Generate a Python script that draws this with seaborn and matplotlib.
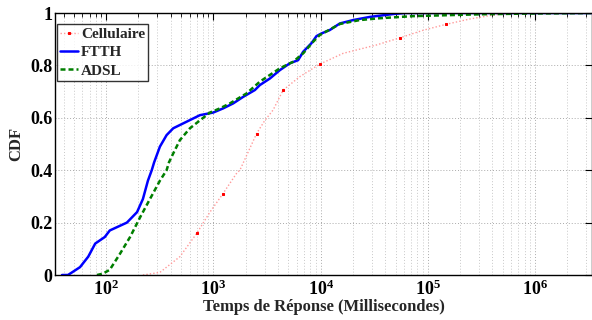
import numpy as np
import pandas as pd
import matplotlib
matplotlib.use("Agg")
import matplotlib.pyplot as plt
import seaborn as sns
from matplotlib.ticker import LogLocator, FixedLocator, FuncFormatter, NullFormatter

# ---- data (response time in ms, CDF) ----
ftth_ms = [38.7, 44, 48, 57, 68, 79, 97, 108, 156, 194, 220, 245, 266, 280, 317, 366, 422,
           562, 748, 995, 1234, 1530, 1896, 2438, 2713, 3365, 4169, 5165, 6170, 6874, 8226,
           9160, 10190, 12180, 15100, 20090, 28750, 47430, 60970, 3.5e6]
ftth_cdf = [0.0, 0.0, 0.01, 0.03, 0.07, 0.12, 0.145, 0.17, 0.20, 0.24, 0.29, 0.36, 0.40, 0.43,
            0.49, 0.534, 0.56, 0.585, 0.61, 0.62, 0.636, 0.655, 0.68, 0.706, 0.725, 0.75,
            0.782, 0.808, 0.82, 0.852, 0.885, 0.912, 0.922, 0.935, 0.96, 0.973, 0.985,
            0.996, 1.0, 1.0]

adsl_ms = [82, 93, 108, 134, 167, 207, 256, 317, 366, 385, 422, 487, 604, 748, 928, 1150,
           1425, 2037, 2713, 4169, 5548, 6874, 8510, 9835, 15100, 23180, 35600, 72300,
           304800, 891000, 3.5e6]
adsl_cdf = [0.0, 0.005, 0.02, 0.08, 0.145, 0.22, 0.29, 0.36, 0.40, 0.43, 0.464, 0.515, 0.56,
            0.59, 0.62, 0.636, 0.655, 0.693, 0.738, 0.789, 0.814, 0.846, 0.89, 0.916, 0.958,
            0.973, 0.98, 0.988, 0.995, 0.998, 1.0]

cell_ms = [220, 317, 487, 702, 928, 1226, 1657, 1766, 2529, 3020, 3609, 4473, 6397, 9835,
           16220, 33200, 54700, 90200, 148900, 245500, 377400, 540000, 718000, 3.5e6]
cell_cdf = [0.0, 0.01, 0.07, 0.16, 0.24, 0.31, 0.39, 0.40, 0.54, 0.59, 0.63, 0.706, 0.757,
            0.805, 0.846, 0.878, 0.905, 0.934, 0.957, 0.977, 0.99, 0.998, 1.0, 1.0]

series_names = ["Cellulaire", "FTTH", "ADSL"]
y_ticks = [0, 0.2, 0.4, 0.6, 0.8, 1.0]
y_tick_labels = ["0", "0.2", "0.4", "0.6", "0.8", "1"]
x_major = [1e2, 1e3, 1e4, 1e5, 1e6]
x_label = "Temps de Réponse (Millisecondes)"
y_label = "CDF"

sns.set_style("white")
plt.rcParams["font.family"] = ["Liberation Serif", "DejaVu Serif"]
plt.rcParams["font.weight"] = "bold"
plt.rcParams["mathtext.fontset"] = "custom"
plt.rcParams["mathtext.rm"] = "Liberation Serif:bold"
plt.rcParams["mathtext.it"] = "Liberation Serif:bold"
plt.rcParams["mathtext.bf"] = "Liberation Serif:bold"

fig = plt.figure(figsize=(5.92, 3.2), dpi=100)
ax = fig.add_axes([55/592, 45/320, (592-55)/592, (275-13)/320])

cell_df = pd.DataFrame({"ms": cell_ms, "cdf": cell_cdf})
ftth_df = pd.DataFrame({"ms": ftth_ms, "cdf": ftth_cdf})
adsl_df = pd.DataFrame({"ms": adsl_ms, "cdf": adsl_cdf})

sns.lineplot(data=cell_df, x="ms", y="cdf", ax=ax, sort=False, color="#ff9a9a",
             linestyle=(0, (1, 1.5)), linewidth=1.0, label=series_names[0],
             marker="s", markersize=2, markerfacecolor="red", markeredgecolor="red",
             markevery=[3, 5, 8, 11, 13, 16, 18])
sns.lineplot(data=ftth_df, x="ms", y="cdf", ax=ax, sort=False, color="#0000ff",
             linewidth=1.8, label=series_names[1])
sns.lineplot(data=adsl_df, x="ms", y="cdf", ax=ax, sort=False, color="#007f00",
             linestyle=(0, (2, 1.2)), linewidth=1.8, label=series_names[2])

ax.set_xscale("log")
ax.set_xlim(33.3, 3.4e6)
ax.set_ylim(0, 1)

ax.xaxis.set_major_locator(FixedLocator(x_major))
ax.xaxis.set_minor_locator(LogLocator(base=10, subs=np.arange(2, 10)))
ax.xaxis.set_minor_formatter(NullFormatter())
ax.xaxis.set_major_formatter(FuncFormatter(lambda v, p: r"$10^{%d}$" % int(round(np.log10(v)))))
ax.set_yticks(y_ticks)
ax.set_yticklabels(y_tick_labels)

ax.grid(True, which="major", axis="both", color="#aaaaaa", linestyle=(0, (1, 2)), linewidth=0.7)
ax.grid(True, which="minor", axis="x", color="#c8c8c8", linestyle=(0, (1, 2)), linewidth=0.7)

ax.tick_params(which="both", direction="in", top=True, right=True, colors="black")
ax.tick_params(which="major", length=5, width=0.8, labelsize=13)
ax.tick_params(axis="y", which="major", pad=2)
ax.tick_params(axis="x", which="major", pad=3)
ax.tick_params(which="minor", length=3, width=0.6)
for lab in ax.get_xticklabels() + ax.get_yticklabels():
    lab.set_fontweight("bold")

for s in ax.spines.values():
    s.set_color("black")
    s.set_linewidth(1.0)

ax.set_xlabel(x_label, fontsize=12, fontweight="bold", labelpad=0.5)
ax.set_ylabel(y_label, fontsize=12, fontweight="bold", labelpad=4)

leg = ax.legend(loc="upper left", fontsize=11, frameon=True, fancybox=False,
                borderpad=0.2, labelspacing=0.3, handlelength=1.15, handletextpad=0.2,
                borderaxespad=0.15, bbox_to_anchor=(0.0, 0.965))
leg.get_frame().set_edgecolor("black")
leg.get_frame().set_linewidth(1.0)
for t in leg.get_texts():
    t.set_fontweight("bold")

fig.savefig("out.png", dpi=100)
